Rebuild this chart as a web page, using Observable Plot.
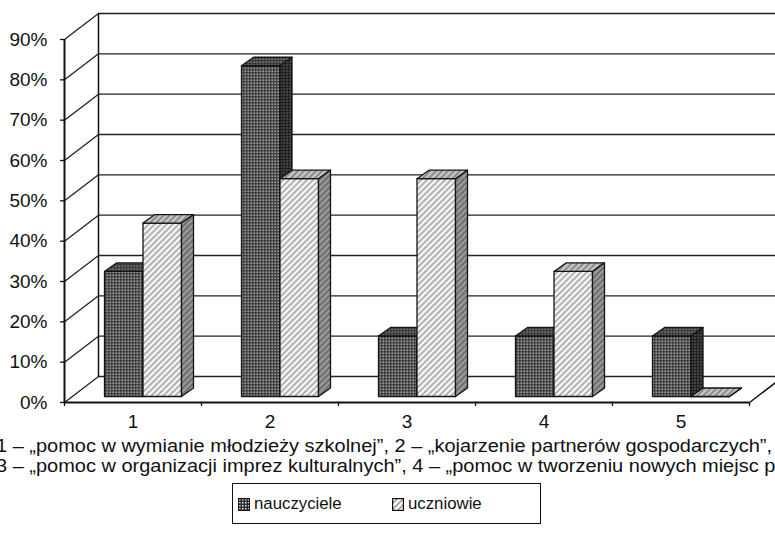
<!DOCTYPE html>
<html><head><meta charset="utf-8">
<script src="https://cdn.jsdelivr.net/npm/d3@7"></script>
<script src="https://cdn.jsdelivr.net/npm/@observablehq/plot@0.6"></script>
<style>
body{margin:0;background:#fff;font-family:"Liberation Sans",Arial,sans-serif;color:#111;}
#wrap{position:relative;width:775px;height:549px;overflow:hidden;background:#fff;}
#chart{position:absolute;left:0;top:0;}
#chart svg text{font-size:19px;}
.cap{position:absolute;left:-4px;white-space:nowrap;font-size:17.5px;line-height:20px;transform-origin:0 50%;}
#legend{position:absolute;left:232px;top:483px;width:307px;height:39px;border:1px solid #111;font-size:16.8px;}
.item{position:absolute;top:10px;display:flex;align-items:center;gap:4px;}
.item svg{display:block;}
</style></head><body>
<svg width="0" height="0" style="position:absolute">
<defs>
<pattern id="nFront" width="3" height="3" patternUnits="userSpaceOnUse"><rect width="3" height="3" fill="#2a2a2a"/><rect x="1" y="1" width="1.5" height="1.5" fill="#f0f0f0"/></pattern>
<pattern id="nTop" width="3" height="3" patternUnits="userSpaceOnUse"><rect width="3" height="3" fill="#303030"/><rect x="1" y="1" width="1.3" height="1.3" fill="#c4c4c4"/></pattern>
<pattern id="nSide" width="3" height="3" patternUnits="userSpaceOnUse"><rect width="3" height="3" fill="#1e1e1e"/><rect x="1" y="1" width="1.1" height="1.1" fill="#a0a0a0"/></pattern>
<pattern id="uFront" width="6" height="6" patternUnits="userSpaceOnUse"><rect width="6" height="6" fill="#fafafa"/><path d="M-1,7 L7,-1 M-1,1 L1,-1 M5,7 L7,5" stroke="#8a8a8a" stroke-width="1.3"/></pattern>
<pattern id="uTop" width="6" height="6" patternUnits="userSpaceOnUse"><rect width="6" height="6" fill="#c8c8c8"/><path d="M-1,7 L7,-1 M-1,1 L1,-1 M5,7 L7,5" stroke="#6a6a6a" stroke-width="1.3"/></pattern>
<pattern id="uSide" width="6" height="6" patternUnits="userSpaceOnUse"><rect width="6" height="6" fill="#9a9a9a"/><path d="M-1,7 L7,-1 M-1,1 L1,-1 M5,7 L7,5" stroke="#555" stroke-width="1.3"/></pattern>
</defs></svg>
<div id="wrap">
<div id="chart"></div>
<div class="cap" id="cap1" style="top:436px"></div>
<div class="cap" id="cap2" style="top:456px"></div>
<div id="legend"></div>
</div>
<script>
// ---- data ----
const categories = ["1", "2", "3", "4", "5"];
const seriesNames = ["nauczyciele", "uczniowie"];
const nauczyciele = [31, 82, 15, 15, 15];
const uczniowie = [43, 54, 54, 31, 0];
const yTicks = [0, 10, 20, 30, 40, 50, 60, 70, 80, 90];
const captionLines = [
  "1 – „pomoc w wymianie młodzieży szkolnej”, 2 – „kojarzenie partnerów gospodarczych”,",
  "3 – „pomoc w organizacji imprez kulturalnych”, 4 – „pomoc w tworzeniu nowych miejsc pracy”,"
];

// ---- layout ----
const W = 775, H = 432;
const mL = 64, mR = 26, mT = 39, mB = 30;
const yMax = 90;
const pxX = (W - mL - mR) / categories.length;   // px per category
const pxY = (H - mT - mB) / yMax;                 // px per percent
const wallDX = 34 / pxX, wallDY = 26 / pxY;       // depth of the walls
const barOff = 40 / pxX, barW = 38.5 / pxX;       // bar front position within category
const barBase = 6 / pxY;                          // bars stand slightly inside the floor
const depX = 12 / pxX, depY = 8.5 / pxY;          // bar depth

const nCat = categories.length;

// walls & gridlines
const grid = [];
yTicks.forEach(v => {
  grid.push({z: v, x: 0, y: v}, {z: v, x: wallDX, y: v + wallDY}, {z: v, x: nCat + wallDX, y: v + wallDY});
});
const wallEdges = [
  {z: "back", x: wallDX, y: wallDY}, {z: "back", x: wallDX, y: yMax + wallDY},
  {z: "floor", x: nCat, y: 0}, {z: "floor", x: nCat + wallDX, y: wallDY}
];

function faces(values, j) {
  const front = [], top = [], side = [];
  values.forEach((v, i) => {
    const id = categories[i];
    const x1 = i + barOff + j * barW, x2 = x1 + barW;
    const y0 = barBase, y1 = v + barBase;
    const P = (arr, out) => arr.forEach(([x, y]) => out.push({id, x, y}));
    P([[x1, y0], [x2, y0], [x2, y1], [x1, y1]], front);
    P([[x1, y1], [x2, y1], [x2 + depX, y1 + depY], [x1 + depX, y1 + depY]], top);
    P([[x2, y0], [x2 + depX, y0 + depY], [x2 + depX, y1 + depY], [x2, y1]], side);
  });
  return {front, top, side};
}
const fN = faces(nauczyciele, 0);
const fU = faces(uczniowie, 1);
const poly = (data, fill) => Plot.line(data, {x: "x", y: "y", z: "id", curve: "linear-closed", fill, stroke: "#141414", strokeWidth: 1.3});

const chart = Plot.plot({
  width: W, height: H,
  marginLeft: mL, marginRight: mR, marginTop: mT, marginBottom: mB,
  style: {fontFamily: "'Liberation Sans', Arial, sans-serif", fontSize: "19px", color: "#111", background: "transparent", overflow: "visible"},
  x: {domain: [0, nCat], axis: null},
  y: {domain: [0, yMax], axis: null},
  marks: [
    Plot.line(grid, {x: "x", y: "y", z: "z", stroke: "#222", strokeWidth: 1.3}),
    Plot.line(wallEdges, {x: "x", y: "y", z: "z", stroke: "#111", strokeWidth: 1.5}),
    poly(fN.front, "url(#nFront)"), poly(fN.top, "url(#nTop)"), poly(fN.side, "url(#nSide)"),
    poly(fU.front, "url(#uFront)"), poly(fU.top, "url(#uTop)"), poly(fU.side, "url(#uSide)"),
    Plot.ruleX([0], {y1: 0, y2: yMax, stroke: "#111", strokeWidth: 2}),
    Plot.ruleY([0], {x1: 0, x2: nCat, stroke: "#111", strokeWidth: 2}),
    Plot.axisY({ticks: yTicks, tickFormat: d => d + "%", tickSize: 4, tickPadding: 13, fontSize: 19, label: null, stroke: "#111", strokeWidth: 1.3}),
    Plot.axisX({ticks: d3.range(nCat + 1), tickFormat: () => "", tickSize: 4, label: null, stroke: "#111", strokeWidth: 1.3}),
    Plot.axisX({ticks: categories.map((c, i) => i + 0.5), tickFormat: d => categories[Math.floor(d)], tickSize: 0, tickPadding: 12, fontSize: 19, label: null})
  ]
});
document.getElementById("chart").appendChild(chart);

// caption (the reference shows these lines cropped at both edges)
const c1 = document.getElementById("cap1"), c2 = document.getElementById("cap2");
c1.textContent = captionLines[0];
c2.textContent = captionLines[1];
const natural = c1.getBoundingClientRect().width;
const k = 776 / natural;
c1.style.transform = `scaleX(${k})`;
c2.style.transform = `scaleX(${k})`;

// legend
const lg = document.getElementById("legend");
const swatch = ["url(#nFront)", "url(#uFront)"];
const lx = [5, 159];
seriesNames.forEach((s, i) => {
  const d = document.createElement("div");
  d.className = "item";
  d.style.left = lx[i] + "px";
  d.innerHTML = `<svg width="12" height="13"><rect x="0.6" y="0.6" width="10.8" height="11.8" fill="${swatch[i]}" stroke="#111" stroke-width="1.2"/></svg><span>${s}</span>`;
  lg.appendChild(d);
});
</script>
</body></html>
